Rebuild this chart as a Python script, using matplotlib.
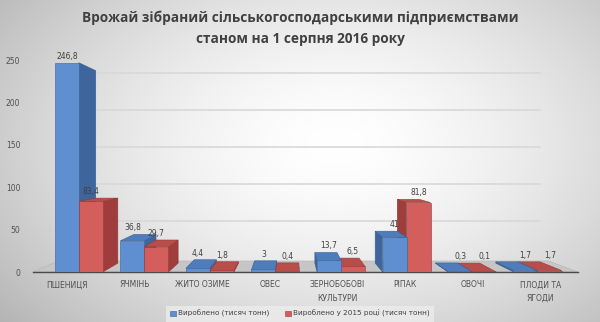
import matplotlib
matplotlib.use("Agg")
import matplotlib.pyplot as plt
import numpy as np
from matplotlib.patches import Polygon, Patch

# --- дані ---
categories = ["ПШЕНИЦЯ", "ЯЧМІНЬ", "ЖИТО ОЗИМЕ", "ОВЕС", "ЗЕРНОБОБОВІ\nКУЛЬТУРИ",
              "РІПАК", "ОВОЧІ", "ПЛОДИ ТА\nЯГОДИ"]
produced = [246.8, 36.8, 4.4, 3, 13.7, 41, 0.3, 1.7]
produced_2015 = [83.4, 29.7, 1.8, 0.4, 6.5, 81.8, 0.1, 1.7]
series_names = ["Вироблено (тисяч тонн)", "Вироблено у 2015 році (тисяч тонн)"]
yticks = [0, 50, 100, 150, 200, 250]

# --- псевдо-3D параметри ---
VPX, VPY = 3.3, 130.0   # точка сходу
F_BAR = 0.08            # глибина стовпчиків
F_FLOOR = 0.10          # глибина підлоги
F_WALL = 0.13           # глибина задньої стінки
W = 0.355
X0, X1 = -0.5, 7.55

BLUE = dict(front="#5f8fd0", side="#3e669c", top="#4f7cba", edge="#3a5f94")
RED = dict(front="#d45e5b", side="#9e3d3b", top="#b94d4a", edge="#933a38")


def back(x, y, f=F_BAR):
    return (x + f * (VPX - x), y + f * (VPY - y))


def fmt(v):
    return f"{v:g}".replace(".", ",")


def draw_bar(ax, x0, h, col, z):
    x1 = x0 + W
    if x1 < VPX:
        ax.add_patch(Polygon([(x1, 0), (x1, h), back(x1, h), back(x1, 0)],
                             fc=col["side"], ec=col["edge"], lw=0.4, zorder=z))
    elif x0 > VPX:
        ax.add_patch(Polygon([(x0, 0), (x0, h), back(x0, h), back(x0, 0)],
                             fc=col["side"], ec=col["edge"], lw=0.4, zorder=z))
    if h < VPY:
        ax.add_patch(Polygon([(x0, h), (x1, h), back(x1, h), back(x0, h)],
                             fc=col["top"], ec=col["edge"], lw=0.4, zorder=z + 0.1))
    ax.bar(x0, h, width=W, align="edge", color=col["front"], edgecolor=col["edge"],
           lw=0.4, zorder=z + 0.2)
    ax.annotate(fmt(h), (x0 + W / 2, max(h, back(x0, h)[1])), xytext=(0, 1.5),
                textcoords="offset points", ha="center", va="bottom",
                fontsize=5.5, color="#404040", zorder=20)


fig = plt.figure(figsize=(6.0, 3.22), dpi=100)

# фон з радіальним градієнтом
bg = fig.add_axes([0, 0, 1, 1], zorder=-5)
yy, xx = np.mgrid[0:1:200j, 0:1:360j]
r = np.sqrt(((xx - 0.56) / 0.62) ** 2 + ((yy - 0.45) / 0.75) ** 2)
shade = 1 - 0.23 * np.clip(r, 0, 1.2) ** 1.6
bg.imshow(np.dstack([shade] * 3), aspect="auto", extent=[0, 1, 0, 1], origin="upper")
bg.axis("off")

ax = fig.add_axes([33 / 600, 50 / 322, 550 / 600, 212 / 322])
ax.set_facecolor("none")
ax.set_xlim(X0, X1 + 0.08)
ax.set_ylim(0, 250)

# сітка на задній стінці
gx0 = back(X0, 0, F_WALL)[0]
gx1 = back(X1, 0, F_WALL)[0]
for v in yticks[1:]:
    yg = back(0, v, F_WALL)[1]
    ax.plot([gx0, gx1], [yg, yg], color="#d8d8d8", lw=1.2, zorder=1)

# підлога
ax.add_patch(Polygon([(X0, 0), (X1, 0), back(X1, 0, F_FLOOR), back(X0, 0, F_FLOOR)],
                     fc="#c6c6c6", ec="#b4b4b4", lw=0.4, zorder=2))
ax.plot([X0, X1], [0, 0], color="#4a4a4a", lw=1.0, zorder=3, clip_on=False)

idx = np.arange(len(categories))
centers = 0.1775 + 0.969 * idx
for i, c in enumerate(centers):
    if c < VPX:
        draw_bar(ax, c - W, produced[i], BLUE, 5)
        draw_bar(ax, c, produced_2015[i], RED, 6)
    else:
        draw_bar(ax, c, produced_2015[i], RED, 5)
        draw_bar(ax, c - W, produced[i], BLUE, 6)

ax.set_xticks(idx)
ax.set_xticklabels(categories, fontsize=5.5, color="#505050", linespacing=1.6)
ax.set_yticks(yticks)
ax.set_yticklabels([str(v) for v in yticks], fontsize=5.5, color="#505050")
ax.tick_params(axis="both", length=0)
ax.tick_params(axis="y", pad=9)
ax.tick_params(axis="x", pad=6)
for s in ax.spines.values():
    s.set_visible(False)

fig.text(0.5, 1 - 18 / 322, "Врожай зібраний сільськогосподарськими підприємствами",
         ha="center", va="center", fontsize=9.8, fontweight="bold",
         family="Open Sans", color="#404040")
fig.text(0.5, 1 - 39 / 322, "станом на 1 серпня 2016 року",
         ha="center", va="center", fontsize=9.8, fontweight="bold",
         family="Open Sans", color="#404040")

handles = [Patch(fc=BLUE["front"], ec=BLUE["edge"], lw=0.4),
           Patch(fc=RED["front"], ec=RED["edge"], lw=0.4)]
leg = fig.legend(handles, series_names, loc="lower center", bbox_to_anchor=(0.5, -0.01),
                 ncol=2, fontsize=5.2, frameon=True, facecolor="#ececec",
                 edgecolor="none", fancybox=False, handlelength=0.8, handleheight=0.8,
                 handletextpad=0.3, columnspacing=2.2, borderpad=0.6)
for t in leg.get_texts():
    t.set_color("#404040")

fig.savefig("out.png", dpi=100)
